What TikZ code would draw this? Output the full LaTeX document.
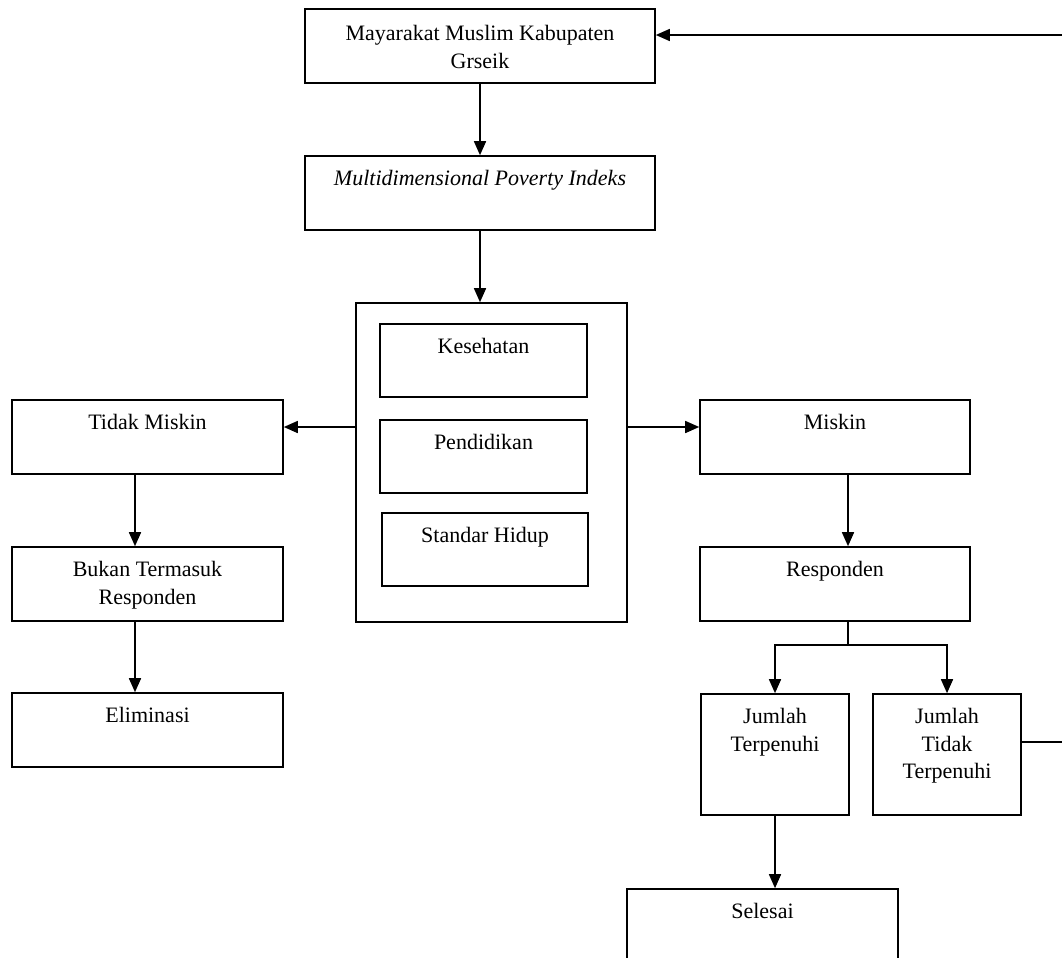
\documentclass[tikz,border=0pt]{standalone}
\usepackage{fontspec}
\setmainfont{Liberation Serif}
\usetikzlibrary{arrows.meta,fit,calc}
\begin{document}
\begin{tikzpicture}[x=0.75pt,y=-0.75pt,
  box/.style={draw=black, line width=1.2pt, inner sep=0pt},
  txt/.style={align=center, inner sep=0pt, font=\fontsize{16.5}{20.5}\selectfont},
  arr/.style={line width=1.2pt, -{Triangle[length=10.5pt,width=9pt]}},
  ln/.style={line width=1.2pt}]
\useasboundingbox (0,0) rectangle (1062,957);
\fill[white] (0,0) rectangle (1062,957);
\clip (0,0) rectangle (1062,957);
% boxes
\node[box, fit={(305,9)(655,83)}] (msm) {};
\node[box, fit={(305,156)(655,230)}] (mpi) {};
\node[box, fit={(356,303)(627,622)}] (dim) {};
\node[box, fit={(380,324)(587,397)}] (kes) {};
\node[box, fit={(380,420)(587,493)}] (pen) {};
\node[box, fit={(382,513)(588,586)}] (std) {};
\node[box, fit={(12,400)(283,474)}] (tm) {};
\node[box, fit={(12,547)(283,621)}] (bt) {};
\node[box, fit={(12,693)(283,767)}] (el) {};
\node[box, fit={(700,400)(970,474)}] (mk) {};
\node[box, fit={(700,547)(970,621)}] (rs) {};
\node[box, fit={(701,694)(849,815)}] (jt) {};
\node[box, fit={(873,694)(1021,815)}] (jtt) {};
\node[box, fit={(627,889)(898,1000)}] (sel) {};
% texts
\node[txt] (msmT) at ($(msm.center)+(0,1)$) {Mayarakat Muslim Kabupaten\\Grseik};
\node[txt, anchor=north] (mpiT) at ($(mpi.north)+(0,15)$) {\itshape Multidimensional Poverty Indeks};
\node[txt, anchor=north] (kesT) at ($(kes.north)+(0,15)$) {Kesehatan};
\node[txt, anchor=north] (penT) at ($(pen.north)+(0,15)$) {Pendidikan};
\node[txt, anchor=north] (stdT) at ($(std.north)+(0,15)$) {Standar Hidup};
\node[txt, anchor=north] (tmT) at ($(tm.north)+(0,15)$) {Tidak Miskin};
\node[txt, anchor=north] (btT) at ($(bt.north)+(0,15)$) {Bukan Termasuk\\Responden};
\node[txt, anchor=north] (elT) at ($(el.north)+(0,15)$) {Eliminasi};
\node[txt, anchor=north] (mkT) at ($(mk.north)+(0,15)$) {Miskin};
\node[txt, anchor=north] (rsT) at ($(rs.north)+(0,15)$) {Responden};
\node[txt, anchor=north] (jtT) at ($(jt.north)+(0,15)$) {Jumlah\\Terpenuhi};
\node[txt, anchor=north] (jttT) at ($(jtt.north)+(0,15)$) {Jumlah\\Tidak\\Terpenuhi};
\node[txt, anchor=north] (selT) at ($(sel.north)+(0,15)$) {Selesai};
% helper coordinates
\coordinate (xMid) at (480,0);
\coordinate (yLR) at (0,427);
\coordinate (xL) at (135,0);
\coordinate (xR) at (848,0);
\coordinate (yB) at (0,645);
\coordinate (loopR) at (1075,742);
\coordinate (yTop) at (0,35);
% connectors
\draw[arr] (msm.south -| xMid) -- (mpi.north -| xMid);
\draw[arr] (mpi.south -| xMid) -- (dim.north -| xMid);
\draw[arr] (dim.west |- yLR) -- (tm.east |- yLR);
\draw[arr] (dim.east |- yLR) -- (mk.west |- yLR);
\draw[arr] (tm.south -| xL) -- (bt.north -| xL);
\draw[arr] (bt.south -| xL) -- (el.north -| xL);
\draw[arr] (mk.south -| xR) -- (rs.north -| xR);
\draw[ln] (rs.south -| xR) -- (xR |- yB);
\draw[arr] (xR |- yB) -| (jt.north);
\draw[arr] (xR |- yB) -| (jtt.north);
\draw[arr] (jt.south) -- (jt.south |- sel.north);
\draw[arr] (jtt.east |- loopR) -- (loopR) -- (loopR |- yTop) -- (msm.east |- yTop);
\end{tikzpicture}
\end{document}
